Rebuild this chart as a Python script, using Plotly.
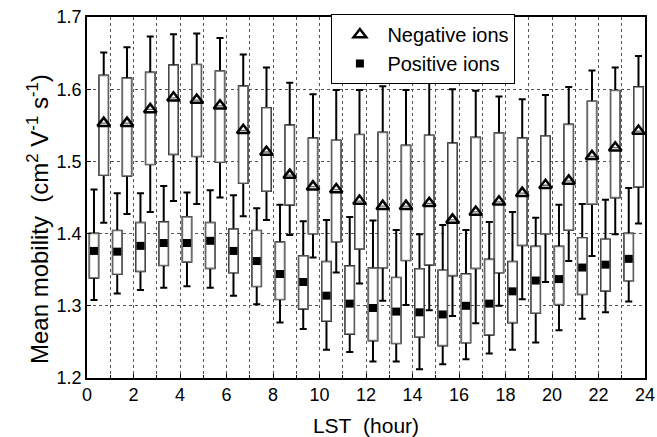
import plotly.graph_objects as go

hours = list(range(24))

# Negative ions: lower whisker, Q1, mean, Q3, upper whisker
neg_low  = [1.415,1.427,1.430,1.445,1.441,1.450,1.424,1.419,1.398,1.367,1.346,1.331,1.307,1.301,1.294,1.286,1.276,1.300,1.309,1.333,1.362,1.369,1.399,1.414]
neg_q1   = [1.481,1.480,1.496,1.510,1.507,1.499,1.470,1.459,1.440,1.400,1.389,1.379,1.353,1.363,1.357,1.342,1.352,1.346,1.384,1.400,1.405,1.441,1.450,1.465]
neg_mean = [1.553,1.553,1.572,1.588,1.585,1.577,1.543,1.513,1.481,1.465,1.461,1.445,1.438,1.438,1.442,1.419,1.430,1.444,1.456,1.467,1.473,1.507,1.519,1.542]
neg_q3   = [1.619,1.615,1.623,1.633,1.634,1.625,1.604,1.574,1.550,1.532,1.529,1.537,1.540,1.522,1.536,1.525,1.533,1.539,1.532,1.535,1.551,1.583,1.598,1.603]
neg_high = [1.651,1.658,1.673,1.676,1.677,1.671,1.648,1.630,1.609,1.593,1.599,1.599,1.604,1.599,1.611,1.600,1.598,1.590,1.586,1.592,1.603,1.626,1.630,1.646]

# Positive ions
pos_low  = [1.308,1.317,1.322,1.325,1.327,1.325,1.314,1.302,1.277,1.268,1.239,1.236,1.223,1.223,1.212,1.219,1.226,1.234,1.239,1.249,1.266,1.282,1.291,1.306]
pos_q1   = [1.339,1.344,1.348,1.356,1.361,1.352,1.346,1.327,1.309,1.296,1.279,1.261,1.252,1.248,1.257,1.245,1.249,1.260,1.277,1.290,1.302,1.316,1.321,1.335]
pos_mean = [1.376,1.375,1.383,1.387,1.387,1.390,1.376,1.362,1.344,1.333,1.314,1.303,1.297,1.292,1.291,1.288,1.300,1.303,1.320,1.335,1.337,1.353,1.357,1.365]
pos_q3   = [1.400,1.404,1.415,1.416,1.423,1.415,1.406,1.404,1.388,1.369,1.361,1.355,1.352,1.339,1.351,1.349,1.344,1.364,1.361,1.382,1.382,1.394,1.392,1.400]
pos_high = [1.461,1.456,1.456,1.466,1.457,1.460,1.453,1.435,1.440,1.417,1.419,1.423,1.418,1.405,1.399,1.412,1.405,1.416,1.430,1.422,1.440,1.441,1.447,1.463]

x_pos = [h + 0.30 for h in hours]
x_neg = [h + 0.72 for h in hours]

FONT = "Arial, Liberation Sans, sans-serif"
BW = 0.38
NB = "\u00a0"

fig = go.Figure()

def add_boxes(xs, low, q1, med, q3, high):
    # whiskers (black)
    fig.add_trace(go.Box(
        x=xs, q1=q1, median=med, q3=q3, lowerfence=low, upperfence=high,
        width=BW, whiskerwidth=0.8, line=dict(color="black", width=2),
        fillcolor="white", showlegend=False, hoverinfo="skip", boxpoints=False))
    # box body (gray outline, white fill) over the whiskers
    fig.add_trace(go.Box(
        x=xs, q1=q1, median=med, q3=q3, lowerfence=q1, upperfence=q3,
        width=BW, whiskerwidth=0, line=dict(color="#6e6e6e", width=1.3),
        fillcolor="white", showlegend=False, hoverinfo="skip", boxpoints=False))

add_boxes(x_neg, neg_low, neg_q1, neg_mean, neg_q3, neg_high)
add_boxes(x_pos, pos_low, pos_q1, pos_mean, pos_q3, pos_high)

fig.add_trace(go.Scatter(
    x=x_neg, y=neg_mean, mode="markers", name="Negative ions",
    marker=dict(symbol="triangle-up-open", size=11, color="black",
                line=dict(width=2.5, color="black"))))
fig.add_trace(go.Scatter(
    x=x_pos, y=pos_mean, mode="markers", name="Positive ions",
    marker=dict(symbol="square", size=8, color="black",
                line=dict(width=0))))

ytitle = ("Mean mobility" + NB + NB + "(cm<sup>2</sup>" + NB + "V<sup>-1</sup>"
          + NB + "s<sup>-1</sup>)")
xtitle = "LST" + NB + NB + "(hour)"

fig.update_layout(
    width=657, height=437,
    margin=dict(l=87, r=12, t=17, b=59),
    paper_bgcolor="white", plot_bgcolor="white",
    boxmode="overlay",
    font=dict(family=FONT, size=18, color="black"),
    legend=dict(x=0.438, y=1.008, xanchor="left", yanchor="top",
                bgcolor="white", bordercolor="black", borderwidth=1,
                font=dict(size=20, family=FONT), itemwidth=45,
                tracegroupgap=0),
    xaxis=dict(range=[0, 24], tick0=0, dtick=2, showgrid=True,
               gridcolor="#555", griddash="dot", gridwidth=1,
               minor=dict(dtick=1, showgrid=True, gridcolor="#555",
                          griddash="dot", gridwidth=1, ticks="inside",
                          ticklen=3, tickcolor="black"),
               ticks="inside", ticklen=4, tickcolor="black",
               showline=True, linecolor="black", linewidth=1.5, mirror=True,
               zeroline=False, tickfont=dict(size=18), automargin=False,
               title=dict(text=xtitle, font=dict(size=21), standoff=14)),
    yaxis=dict(range=[1.2, 1.7], tick0=1.2, dtick=0.1, tickformat=".1f",
               showgrid=True, gridcolor="#555", griddash="dot", gridwidth=1,
               ticks="inside", ticklen=4, tickcolor="black",
               showline=True, linecolor="black", linewidth=1.5, mirror=True,
               zeroline=False, tickfont=dict(size=18), automargin=False),
    annotations=[dict(text=ytitle, textangle=-90, xref="paper", yref="paper",
                      x=-0.088, y=0.44, xanchor="center", yanchor="middle",
                      showarrow=False, font=dict(size=24, family=FONT))],
)

fig.write_html("out.html")
